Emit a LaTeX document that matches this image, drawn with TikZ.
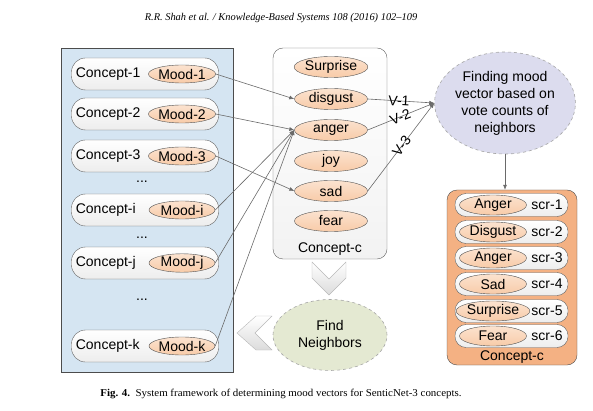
\documentclass[tikz,border=0pt]{standalone}
\usepackage{fontspec}
\setmainfont{Liberation Serif}
\setsansfont{Liberation Sans}
\usetikzlibrary{shapes.geometric,arrows.meta}
\definecolor{panelblue}{HTML}{D5E5F2}
\definecolor{moodfill}{HTML}{F8CBA8}
\definecolor{scorebg}{HTML}{F4B183}
\definecolor{votefill}{HTML}{DCDCEE}
\definecolor{findfill}{HTML}{E4E9D2}
\definecolor{linegray}{HTML}{6A6A6A}
\tikzset{
  lbl/.style={font=\sffamily\fontsize{14}{17}\selectfont, text=black},
  concept/.style={draw=gray!75!black, rounded corners=14pt, top color=white, bottom color=gray!14, minimum width=147pt, minimum height=32pt},
  mood/.style={ellipse, draw=gray!65!black, top color=moodfill!55, bottom color=moodfill, minimum width=66pt, minimum height=18pt, inner sep=0pt, lbl},
  scorerow/.style={draw=gray!75!black, rounded corners=11pt, top color=white, bottom color=gray!14, minimum width=113pt, minimum height=23pt},
  blob/.style={ellipse, draw=gray!70, dashed, line width=0.6pt, align=center, inner sep=0pt, lbl},
  chev/.style={draw=gray!55, top color=white, bottom color=gray!28},
  vlab/.style={lbl, sloped, inner sep=0.5pt},
  link/.style={draw=linegray, line width=0.6pt, -{Latex[length=5pt,width=4pt]}}
}
\begin{document}
\begin{tikzpicture}[x=1pt, y=-1pt]
  \useasboundingbox (0,0) rectangle (593,411);
  % page header and caption
  \node[font=\itshape\fontsize{10.4}{12}\selectfont] (head) at (281,18) {R.R. Shah et al. / Knowledge-Based Systems 108 (2016) 102--109};
  \node[font=\fontsize{10.5}{12}\selectfont] (cap) at (281,394) {\scalebox{1.04}[1]{\textbf{Fig. 4.}\ \ System framework of determining mood vectors for SenticNet-3 concepts.}};
  % panels
  \node[draw=gray!60!black, fill=panelblue, minimum width=172pt, minimum height=324pt] (left) at (147.5,210) {};
  \node[draw=gray!75!black, rounded corners=10pt, top color=white, bottom color=gray!10, minimum width=114pt, minimum height=211pt] (mid) at (330,153.5) {};
  \node[lbl] (midlab) at (330,249) {Concept-c};
  \node[draw=gray!60!black, fill=scorebg, rounded corners=10pt, minimum width=130pt, minimum height=175pt] (right) at (512,277.5) {};
  \node[lbl] (rightlab) at (512,357) {Concept-c};
  % concepts with their moods
  \foreach \c/\y [count=\n] in {1/74, 2/114, 3/156, i/210, j/263, k/346} {
    \node[concept] (c\n) at (145,\y) {};
    \node[lbl, anchor=west] (ct\n) at ([xshift=1pt]c\n.west) {Concept-\c};
    \node[mood] (m\n) at (182,\y) {Mood-\c};
  }
  \foreach \y [count=\n] in {182, 238, 300}
    \node[lbl] (dots\n) at (142,\y) {...};
  % emotions of concept-c
  \foreach \e/\y [count=\n] in {Surprise/67, disgust/99, anger/130, joy/161, sad/191, fear/221}
    \node[mood, minimum width=73pt, minimum height=21pt] (e\n) at (331,\y) {\e};
  % scored moods
  \foreach \e/\y [count=\n] in {Anger/205, Disgust/232, Anger/258, Sad/284, Surprise/311, Fear/336} {
    \node[scorerow] (r\n) at (511.5,\y) {};
    \node[mood, minimum width=67pt, minimum height=20pt] (s\n) at (493,\y) {\e};
    \node[lbl] (scr\n) at (547,\y) {scr-\n};
  }
  % ellipses
  \node[blob, fill=votefill, minimum width=128pt, minimum height=102pt] (vote) at (505,103) {Finding mood\\vector based on\\vote counts of\\neighbors};
  \node[blob, fill=findfill, minimum width=114pt, minimum height=71pt] (nbr) at (330,335) {Find\\Neighbors};
  % chevrons
  \draw[chev] (312,262) -- (312,278) -- (329,295) -- (346,278) -- (346,262) -- (329,279) -- cycle;
  \draw[chev] (272,316) -- (256,316) -- (237,333) -- (256,350) -- (272,350) -- (255,333) -- cycle;
  % connectors
  \draw[link] (m1.east) -- (e2.west);
  \draw[link] (m2.east) -- (e3.west);
  \draw[link] (m3.east) -- (e5.west);
  \foreach \n in {4,5,6}
    \draw[link] (m\n.east) -- (e3.west);
  \draw[link] (e2.east) -- node[vlab, pos=.47] (v1) {V-1} (vote.west);
  \draw[link] (e3.east) -- node[vlab, pos=.49] (v2) {V-2} (vote.west);
  \draw[link] (e5.east) -- node[vlab, pos=.51] (v3) {V-3} (vote.west);
  \draw[link] (vote.south) -- (vote.south |- right.north);
\end{tikzpicture}
\end{document}
